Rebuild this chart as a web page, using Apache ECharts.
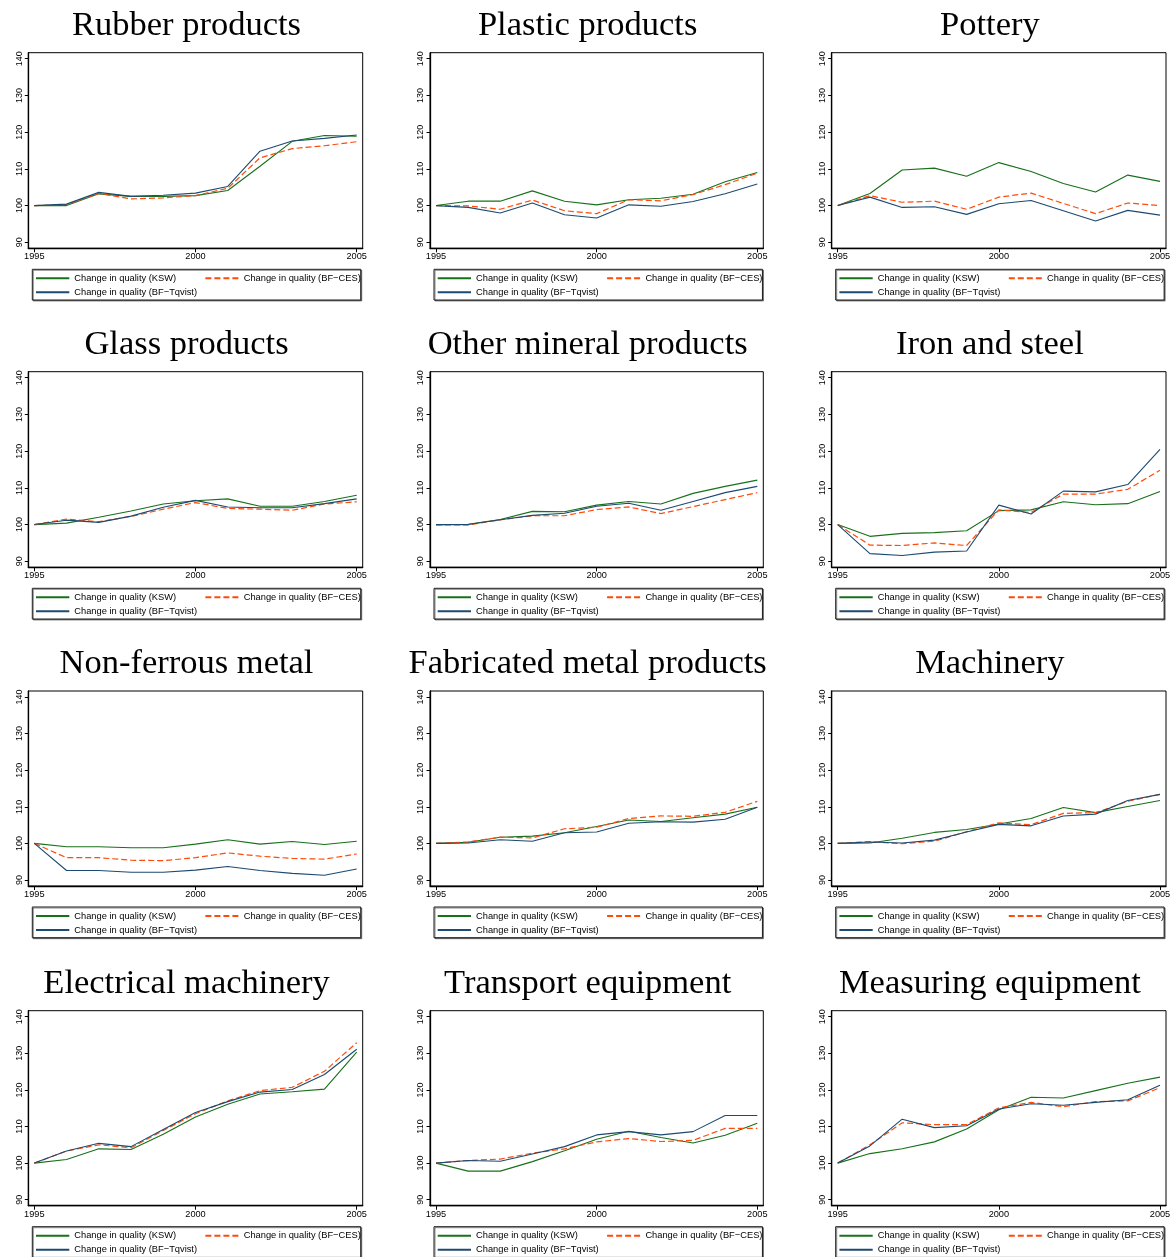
<!DOCTYPE html>
<html>
<head>
<meta charset="utf-8">
<title>Change in quality by industry, 1995-2005</title>
<script src="https://cdn.jsdelivr.net/npm/echarts@6/dist/echarts.min.js"></script>
<style>
  html, body { margin: 0; padding: 0; background: #ffffff; }
  #chart { width: 1176px; height: 1257px; }
</style>
</head>
<body>
<div id="chart"></div>
<script>
// ---- data -------------------------------------------------------------
const years = [1995, 1996, 1997, 1998, 1999, 2000, 2001, 2002, 2003, 2004, 2005];
const xTicks = [1995, 2000, 2005];
const yTicks = [90, 100, 110, 120, 130, 140];

const panelTitles = [
  'Rubber products', 'Plastic products', 'Pottery',
  'Glass products', 'Other mineral products', 'Iron and steel',
  'Non-ferrous metal', 'Fabricated metal products', 'Machinery',
  'Electrical machinery', 'Transport equipment', 'Measuring equipment'
];

const seriesNames = [
  'Change in quality (KSW)',
  'Change in quality (BF\u2212CES)',
  'Change in quality (BF\u2212Tqvist)'
];

const rubberKSW    = [100, 100.0, 103.2, 102.5, 102.5, 102.7, 104.1, 110.7, 117.5, 119.1, 118.9];
const rubberCES    = [100, 100.3, 103.3, 101.8, 102.1, 102.7, 104.7, 113.0, 115.5, 116.3, 117.4];
const rubberTqvist = [100, 100.4, 103.6, 102.5, 102.8, 103.4, 105.2, 114.8, 117.6, 118.3, 119.2];

const plasticKSW    = [100, 101.2, 101.2, 104.0, 101.2, 100.2, 101.6, 102.0, 103.1, 106.5, 109.0];
const plasticCES    = [100, 99.9, 99.0, 101.5, 98.6, 97.8, 101.6, 101.3, 103.0, 105.7, 108.8];
const plasticTqvist = [100, 99.5, 98.0, 100.7, 97.5, 96.6, 100.2, 99.8, 101.1, 103.2, 105.9];

const potteryKSW    = [100, 103.3, 109.7, 110.2, 108.0, 111.7, 109.3, 106.0, 103.7, 108.3, 106.6];
const potteryCES    = [100, 102.7, 100.9, 101.2, 99.0, 102.3, 103.4, 100.6, 97.8, 100.7, 100.0];
const potteryTqvist = [100, 102.3, 99.5, 99.7, 97.6, 100.5, 101.4, 98.6, 95.8, 98.7, 97.4];

const glassKSW    = [100, 100.4, 102.0, 103.7, 105.6, 106.5, 107.0, 105.0, 105.0, 106.3, 108.0];
const glassCES    = [100, 101.5, 100.8, 102.2, 104.2, 106.0, 104.4, 104.2, 103.9, 105.6, 106.2];
const glassTqvist = [100, 101.2, 100.6, 102.3, 104.7, 106.6, 104.8, 104.6, 104.6, 105.7, 107.0];

const mineralKSW    = [100, 100.1, 101.4, 103.6, 103.5, 105.3, 106.3, 105.6, 108.5, 110.4, 112.1];
const mineralCES    = [99.9, 99.9, 101.3, 102.4, 102.4, 104.1, 104.8, 103.0, 104.9, 106.8, 108.7];
const mineralTqvist = [100, 100.0, 101.3, 102.5, 103.1, 105.0, 105.8, 103.9, 106.3, 108.7, 110.4];

const steelKSW    = [100, 96.8, 97.6, 97.8, 98.3, 103.8, 104.0, 106.2, 105.4, 105.7, 109.0];
const steelCES    = [100, 94.4, 94.3, 95.0, 94.3, 104.0, 103.3, 108.3, 108.3, 109.6, 114.8];
const steelTqvist = [100, 92.1, 91.6, 92.5, 92.8, 105.3, 102.9, 109.1, 108.9, 110.9, 120.5];

const nonferrousKSW    = [100, 99.1, 99.1, 98.8, 98.8, 99.8, 101.0, 99.8, 100.5, 99.7, 100.6];
const nonferrousCES    = [100, 96.1, 96.1, 95.4, 95.3, 96.1, 97.4, 96.5, 95.9, 95.7, 97.1];
const nonferrousTqvist = [100, 92.6, 92.6, 92.1, 92.1, 92.7, 93.7, 92.6, 91.8, 91.3, 93.0];

const fabricatedKSW    = [100, 100.3, 101.7, 102.0, 102.9, 104.6, 106.4, 106.0, 107.0, 108.0, 109.9];
const fabricatedCES    = [100, 100.4, 101.7, 101.5, 104.0, 104.4, 106.8, 107.5, 107.4, 108.5, 111.5];
const fabricatedTqvist = [100, 100.1, 101.0, 100.6, 102.9, 103.1, 105.5, 105.9, 105.8, 106.6, 109.9];

const machineryKSW    = [100, 100.1, 101.4, 103.0, 103.8, 105.3, 106.8, 109.8, 108.4, 110.1, 111.7];
const machineryCES    = [100, 100.5, 99.9, 100.6, 103.2, 105.6, 105.1, 108.2, 108.4, 111.5, 113.4];
const machineryTqvist = [100, 100.4, 100.1, 100.9, 103.1, 105.2, 104.8, 107.5, 108.0, 111.7, 113.4];

const electricalKSW    = [100, 101.0, 103.9, 103.7, 107.9, 112.6, 116.1, 118.9, 119.5, 120.2, 130.3];
const electricalCES    = [100, 103.3, 105.0, 104.2, 108.9, 113.5, 117.0, 119.8, 120.7, 125.1, 132.9];
const electricalTqvist = [100, 103.3, 105.4, 104.5, 109.2, 113.8, 116.8, 119.4, 120.1, 124.2, 131.1];

const transportKSW    = [100, 97.8, 97.8, 100.4, 103.4, 106.5, 108.7, 107.0, 105.5, 107.6, 110.9];
const transportCES    = [100, 100.7, 101.1, 102.7, 103.9, 105.8, 106.7, 105.9, 106.2, 109.5, 109.5];
const transportTqvist = [100, 100.7, 100.5, 102.5, 104.5, 107.7, 108.6, 107.7, 108.6, 113.0, 113.0];

const measuringKSW    = [100, 102.6, 103.9, 105.8, 109.3, 114.6, 118.0, 117.8, 119.8, 121.8, 123.5];
const measuringCES    = [100, 105.0, 111.0, 110.5, 110.5, 115.1, 116.6, 115.4, 116.8, 117.0, 120.6];
const measuringTqvist = [100, 104.7, 112.0, 109.7, 110.2, 114.8, 116.2, 115.8, 116.6, 117.3, 121.3];

// panel order: row by row, three per row
const panelSeries = [
  [rubberKSW, rubberCES, rubberTqvist],
  [plasticKSW, plasticCES, plasticTqvist],
  [potteryKSW, potteryCES, potteryTqvist],
  [glassKSW, glassCES, glassTqvist],
  [mineralKSW, mineralCES, mineralTqvist],
  [steelKSW, steelCES, steelTqvist],
  [nonferrousKSW, nonferrousCES, nonferrousTqvist],
  [fabricatedKSW, fabricatedCES, fabricatedTqvist],
  [machineryKSW, machineryCES, machineryTqvist],
  [electricalKSW, electricalCES, electricalTqvist],
  [transportKSW, transportCES, transportTqvist],
  [measuringKSW, measuringCES, measuringTqvist]
];

// ---- layout & style ---------------------------------------------------
const colLeft  = [28.3, 430, 831.7];
const colWidth = [334.4, 333.3, 334.3];
const rowTop   = [52.7, 371.7, 691, 1010.7];
const rowHeight = [195.6, 195.6, 195.0, 195.0];
const PAD_PX = 6;                      // gap between the frame and the outermost ticks

const lineColors = ['#17701a', '#ff4a0a', '#1c4a72'];
const lineTypes  = ['solid', [6, 3], 'solid'];
const lineWidths = [1.1, 1.2, 1.1];

const sansFont   = "'Liberation Sans', Arial, Helvetica, sans-serif";
const narrowFont = "'Liberation Sans Narrow', 'Liberation Sans', Arial, sans-serif";
const serifFont  = "'Liberation Serif', 'Times New Roman', serif";

const grids = [], xAxes = [], yAxes = [], series = [], legends = [], graphics = [];

panelTitles.forEach((title, i) => {
  const c = i % 3, r = Math.floor(i / 3);
  const left = colLeft[c], top = rowTop[r], w = colWidth[c], h = rowHeight[r];

  grids.push({
    left: left, top: top, width: w, height: h,
    show: true, borderColor: '#000', borderWidth: 1, backgroundColor: '#fff'
  });

  const xPad = PAD_PX * (xTicks[2] - xTicks[0]) / (w - 2 * PAD_PX);
  const yPad = PAD_PX * (yTicks[yTicks.length - 1] - yTicks[0]) / (h - 2 * PAD_PX);

  xAxes.push({
    type: 'value', gridIndex: i,
    min: xTicks[0] - xPad, max: xTicks[2] + xPad,
    axisLine: { show: true, onZero: false, lineStyle: { color: '#000', width: 1.3 } },
    axisTick: { show: true, length: 4, customValues: xTicks, lineStyle: { color: '#000', width: 1 } },
    axisLabel: {
      customValues: xTicks, margin: 4, color: '#000',
      fontSize: 9.2, fontFamily: sansFont,
      formatter: v => String(v)
    },
    splitLine: { show: false }
  });

  yAxes.push({
    type: 'value', gridIndex: i,
    min: yTicks[0] - yPad, max: yTicks[yTicks.length - 1] + yPad,
    axisLine: { show: true, onZero: false, lineStyle: { color: '#000', width: 1.3 } },
    axisTick: { show: true, length: 3.5, customValues: yTicks, lineStyle: { color: '#000', width: 1 } },
    axisLabel: {
      customValues: yTicks, margin: 4.5, rotate: 90, color: '#000',
      fontSize: 9, fontFamily: narrowFont,
      formatter: v => String(v)
    },
    splitLine: { show: false }
  });

  panelSeries[i].forEach((values, s) => {
    series.push({
      type: 'line', name: seriesNames[s],
      xAxisIndex: i, yAxisIndex: i,
      data: years.map((yr, k) => [yr, values[k]]),
      symbol: 'none', silent: true,
      lineStyle: { color: lineColors[s], width: lineWidths[s], type: lineTypes[s] },
      itemStyle: { color: lineColors[s] },
      z: 2 + s
    });
  });

  // legend frame with first row, second row placed inside it
  const legLeft = left + 4, legTop = top + h + 21;
  const common = {
    orient: 'horizontal', itemWidth: 33.3, itemHeight: 12, itemGap: 28.3,
    selectedMode: false,
    itemStyle: { opacity: 0 },
    textStyle: { color: '#000', fontSize: 9.3, fontFamily: sansFont, lineHeight: 12 }
  };
  legends.push(Object.assign({}, common, {
    data: [seriesNames[0], seriesNames[1]],
    left: legLeft, top: legTop,
    padding: [3, 0, 15.7, 2.7],
    borderColor: '#1a1a1a', borderWidth: 1,
    shadowColor: 'rgba(0,0,0,0.45)', shadowOffsetX: 1, shadowOffsetY: 1, shadowBlur: 0,
    backgroundColor: '#fff'
  }));
  legends.push(Object.assign({}, common, {
    data: [seriesNames[2]],
    left: legLeft + 2.7, top: legTop + 17,
    padding: 0, z: 5
  }));

  graphics.push({
    type: 'text',
    x: left + w / 2 - 9, y: top - 27,
    style: {
      text: title, fill: '#000',
      font: '34.5px ' + serifFont,
      align: 'center', verticalAlign: 'middle',
      textAlign: 'center', textVerticalAlign: 'middle'
    },
    silent: true
  });
});

const chart = echarts.init(document.getElementById('chart'), null, { renderer: 'canvas' });
chart.setOption({
  animation: false,
  backgroundColor: '#ffffff',
  grid: grids,
  xAxis: xAxes,
  yAxis: yAxes,
  legend: legends,
  series: series,
  graphic: graphics
});
</script>
</body>
</html>
